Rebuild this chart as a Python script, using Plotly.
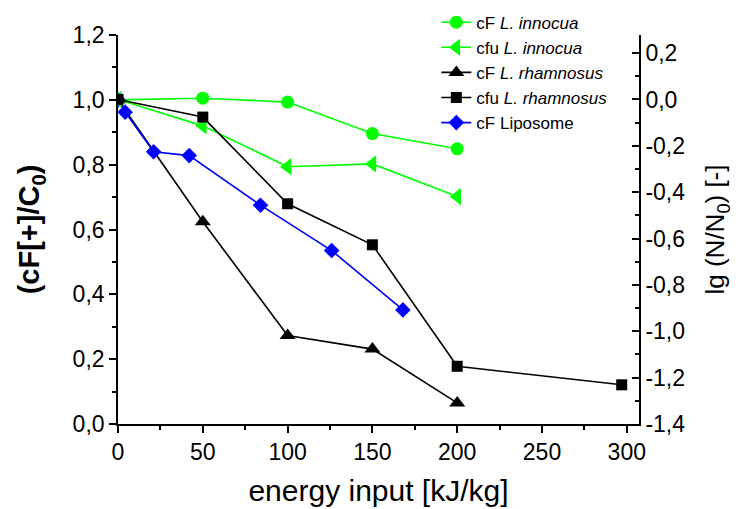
import plotly.graph_objects as go

# energy input [kJ/kg]
energy = [0, 50, 100, 150, 200]
energy_rham_cfu = [0, 50, 100, 150, 200, 297]
energy_lipo = [0, 4.2, 21, 42, 84, 126, 168]

# cF release, normalised (left axis)
cf_innocua = [1.0, 1.005, 0.993, 0.896, 0.849]
cf_rhamnosus = [1.0, 0.624, 0.273, 0.231, 0.065]
cf_liposome = [1.0, 0.962, 0.840, 0.828, 0.675, 0.535, 0.352]

# log reduction lg(N/N0) (right axis)
cfu_innocua = [0.0, -0.114, -0.290, -0.278, -0.419]
cfu_rhamnosus = [0.0, -0.076, -0.450, -0.627, -1.151, -1.231]

right_ticks = [0.2, 0.0, -0.2, -0.4, -0.6, -0.8, -1.0, -1.2, -1.4]
right_labels = ["0,2", "0,0", "-0,2", "-0,4", "-0,6", "-0,8", "-1,0", "-1,2", "-1,4"]

GREEN = "#00ff00"
BLUE = "#0000ff"
BLACK = "#000000"
FONT = "Liberation Sans, Arial, sans-serif"

fig = go.Figure()

def add(x, y, name, color, symbol, size, axis="y"):
    fig.add_trace(go.Scatter(
        x=x, y=y, name=name, yaxis=axis, mode="lines+markers",
        line=dict(color=color, width=1.6),
        marker=dict(color=color, symbol=symbol, size=size, line=dict(width=0)),
    ))

add(energy, cf_innocua, "cF <i>L. innocua</i>", GREEN, "circle", 13)
add(energy, cfu_innocua, "cfu <i>L. innocua</i>", GREEN, "triangle-left", 15, "y2")
add(energy, cf_rhamnosus, "cF <i>L. rhamnosus</i>", BLACK, "triangle-up", 14)
add(energy_rham_cfu, cfu_rhamnosus, "cfu <i>L. rhamnosus</i>", BLACK, "square", 11, "y2")
add(energy_lipo, cf_liposome, "cF Liposome", BLUE, "diamond", 12)

axis_common = dict(
    showline=True, linecolor=BLACK, linewidth=1.6, showgrid=False, zeroline=False,
    tickcolor=BLACK, tickwidth=1.5, ticklen=7, automargin=False,
    tickfont=dict(family=FONT, size=23, color=BLACK),
)

fig.update_layout(
    width=754, height=509,
    margin=dict(l=118, r=115, t=35, b=85, autoexpand=False),
    paper_bgcolor="white", plot_bgcolor="white",
    separators=",.",
    font=dict(family=FONT, color=BLACK),
    xaxis=dict(
        range=[0, 307.2], tickvals=[0, 50, 100, 150, 200, 250, 300], ticks="outside",
        minor=dict(dtick=25, tick0=0, ticks="outside", ticklen=4, tickwidth=1.5, tickcolor=BLACK),
        title=dict(text="energy input [kJ/kg]", font=dict(family=FONT, size=30), standoff=16),
        **axis_common,
    ),
    yaxis=dict(
        range=[0, 1.2], dtick=0.2, tick0=0, tickformat=".1f", ticks="outside",
        minor=dict(dtick=0.1, tick0=0, ticks="outside", ticklen=4, tickwidth=1.5, tickcolor=BLACK),
        title=dict(text="<b>(cF[+]/C<sub>0</sub>)</b>", font=dict(family=FONT, size=29), standoff=24),
        **axis_common,
    ),
    yaxis2=dict(
        range=[-1.4, 0.278], overlaying="y", side="right", anchor="x",
        tickvals=right_ticks, ticktext=right_labels, ticks="inside",
        minor=dict(dtick=0.1, tick0=0, ticks="inside", ticklen=4, tickwidth=1.5, tickcolor=BLACK),
        title=dict(text="lg (N/N<sub>0</sub>) [-]", font=dict(family=FONT, size=26), standoff=22),
        **axis_common,
    ),
    legend=dict(
        x=0.611, xanchor="left", y=1.078, yanchor="top",
        bgcolor="rgba(0,0,0,0)", borderwidth=0,
        font=dict(family=FONT, size=17, color=BLACK),
    ),
    showlegend=True,
)

fig.write_html("out.html")
